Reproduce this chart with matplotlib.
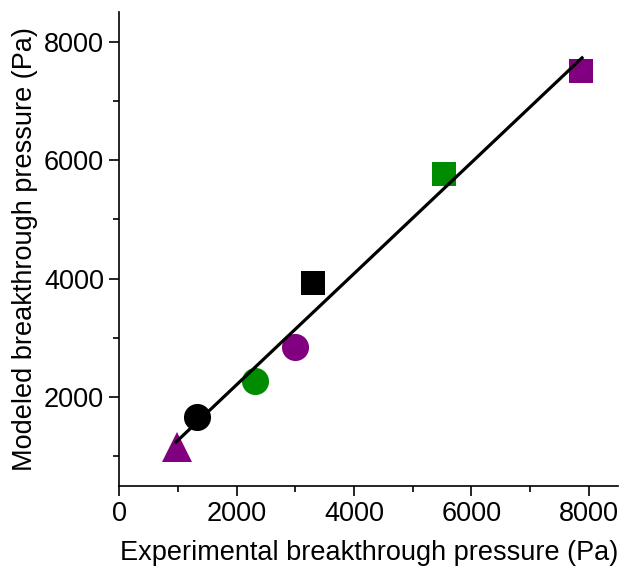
import numpy as np
import matplotlib
matplotlib.use("Agg")
import matplotlib.pyplot as plt
from matplotlib.ticker import MultipleLocator

plt.rcParams['font.family'] = ['Liberation Sans', 'DejaVu Sans']

# experimental vs modeled breakthrough pressure (Pa)
exp_p = [980, 1330, 2310, 2990, 3300, 5530, 7870]
mod_p = [1155, 1660, 2270, 2850, 3925, 5765, 7505]
colors = ['#800080', 'black', '#008c00', '#800080', 'black', '#008c00', '#800080']
markers = ['^', 'o', 'o', 'o', 's', 's', 's']
sizes = [22, 19.5, 19.5, 19.5, 17.5, 17.5, 17.5]

fig = plt.figure(figsize=(6.25, 5.69), dpi=100)
ax = fig.add_axes([0.191, 0.146, 0.798, 0.833])

for x, y, c, m, s in zip(exp_p, mod_p, colors, markers, sizes):
    ax.plot(x, y, marker=m, color=c, markersize=s, linestyle='none',
            markeredgewidth=0, zorder=2)

# linear fit
k, b = np.polyfit(exp_p, mod_p, 1)
fx = np.array([min(exp_p) - 15, max(exp_p) + 15])
ax.plot(fx, k * fx + b, color='black', linewidth=2.3, zorder=3)

ax.set_xlim(0, 8500)
ax.set_ylim(500, 8500)
ax.xaxis.set_major_locator(MultipleLocator(2000))
ax.xaxis.set_minor_locator(MultipleLocator(1000))
ax.yaxis.set_major_locator(MultipleLocator(2000))
ax.yaxis.set_minor_locator(MultipleLocator(1000))

for side in ['top', 'right']:
    ax.spines[side].set_visible(False)
for side in ['left', 'bottom']:
    ax.spines[side].set_linewidth(1.2)

ax.tick_params(which='major', direction='out', length=7, width=1.2, labelsize=19.5, pad=4)
ax.tick_params(which='minor', direction='out', length=4, width=1.2)

ax.set_xlabel('Experimental breakthrough pressure (Pa)', fontsize=19.5, labelpad=9)
ax.set_ylabel('Modeled breakthrough pressure (Pa)', fontsize=19.5, labelpad=4)

fig.savefig('out.png', dpi=100)
